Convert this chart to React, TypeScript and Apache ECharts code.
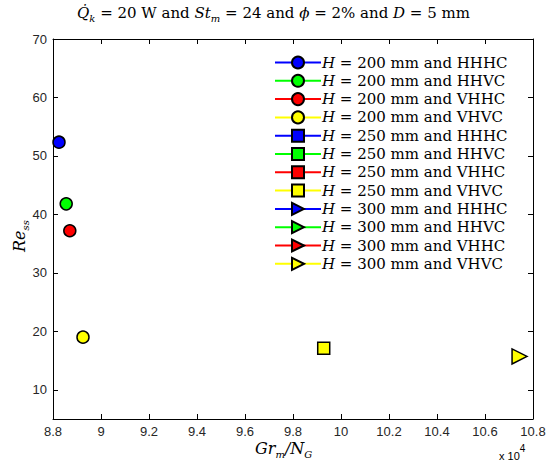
import React, { useEffect, useRef } from "react";
import * as echarts from "echarts";

const seriesNames = [
  "H200 HHHC", "H200 HHVC", "H200 VHHC", "H200 VHVC",
  "H250 HHHC", "H250 HHVC", "H250 VHHC", "H250 VHVC",
  "H300 HHHC", "H300 HHVC", "H300 VHHC", "H300 VHVC",
];
const legendH = ["200", "200", "200", "200", "250", "250", "250", "250", "300", "300", "300", "300"];
const legendCfg = ["HHHC", "HHVC", "VHHC", "VHVC", "HHHC", "HHVC", "VHHC", "VHVC", "HHHC", "HHVC", "VHHC", "VHVC"];
const seriesColors = ["#0000ff", "#00ff00", "#ff0000", "#ffff00", "#0000ff", "#00ff00", "#ff0000", "#ffff00", "#0000ff", "#00ff00", "#ff0000", "#ffff00"];
const seriesSymbols = ["circle", "circle", "circle", "circle", "rect", "rect", "rect", "rect", "triangle", "triangle", "triangle", "triangle"];

// [Gr_m/N_G, Re_ss]
const seriesData: number[][][] = [
  [[88250, 52.35]],
  [[88550, 41.8]],
  [[88700, 37.2]],
  [[89250, 19.0]],
  [],
  [],
  [],
  [[99280, 17.1]],
  [],
  [],
  [],
  [[107440, 15.7]],
];

const yTicks = [10, 20, 30, 40, 50, 60, 70];

export default function App() {
  const ref = useRef<HTMLDivElement>(null);
  useEffect(() => {
    const chart = echarts.init(ref.current!, null, { renderer: "svg" });
    const serif = "DejaVu Serif";
    const labelStyle = { fontFamily: "Liberation Sans", fontSize: 13, color: "#262626" };
    const series = seriesNames.map((name, i) => ({
      name,
      type: "line",
      data: seriesData[i],
      symbol: seriesSymbols[i],
      symbolSize: seriesSymbols[i] === "triangle" ? 15 : 12,
      symbolRotate: seriesSymbols[i] === "triangle" ? -90 : 0,
      showAllSymbol: true,
      lineStyle: { color: seriesColors[i], width: 2 },
      itemStyle: { color: seriesColors[i], borderColor: "#000", borderWidth: 1.5 },
      xAxisIndex: 0,
      yAxisIndex: 0,
      z: 3,
    }));
    const option: any = {
      animation: false,
      backgroundColor: "#fff",
      grid: { left: 53, right: 14, top: 39, bottom: 43, containLabel: false, outerBoundsMode: "none" },
      xAxis: [
        {
          type: "value",
          min: 88000,
          max: 108000,
          interval: 2000,
          axisLine: { show: true, onZero: false, lineStyle: { color: "#000", width: 1 } },
          axisTick: { show: true, inside: true, length: 5, lineStyle: { color: "#000" } },
          splitLine: { show: false },
          axisLabel: {
            ...labelStyle,
            margin: 6,
            formatter: (v: number) => String(parseFloat((v / 1e4).toFixed(1))),
          },
        },
        {
          type: "value",
          position: "top",
          min: 88000,
          max: 108000,
          interval: 2000,
          axisLine: { show: true, onZero: false, lineStyle: { color: "#000", width: 1 } },
          axisTick: { show: true, inside: true, length: 5, lineStyle: { color: "#000" } },
          splitLine: { show: false },
          axisLabel: { show: false },
        },
      ],
      yAxis: [
        {
          type: "value",
          min: 5,
          max: 70,
          axisLine: { show: true, onZero: false, lineStyle: { color: "#000", width: 1 } },
          axisTick: { show: true, inside: true, length: 5, lineStyle: { color: "#000" }, customValues: yTicks },
          splitLine: { show: false },
          axisLabel: { ...labelStyle, margin: 6, customValues: yTicks },
        },
        {
          type: "value",
          position: "right",
          min: 5,
          max: 70,
          axisLine: { show: true, onZero: false, lineStyle: { color: "#000", width: 1 } },
          axisTick: { show: true, inside: true, length: 5, lineStyle: { color: "#000" }, customValues: yTicks },
          splitLine: { show: false },
          axisLabel: { show: false, customValues: yTicks },
        },
      ],
      legend: {
        orient: "vertical",
        left: 269,
        top: 50,
        itemWidth: 46,
        itemHeight: 15,
        itemGap: 3.3,
        data: seriesNames,
        formatter: (name: string) => {
          const i = seriesNames.indexOf(name);
          return `{i|H}{n| = ${legendH[i]} mm and ${legendCfg[i]}}`;
        },
        textStyle: {
          padding: [0, 0, 0, -4],
          rich: {
            i: { fontFamily: serif, fontStyle: "italic", fontSize: 15, color: "#000" },
            n: { fontFamily: serif, fontSize: 15, color: "#000" },
          },
        },
      },
      graphic: [
        {
          type: "text",
          left: "center",
          top: 5,
          style: {
            text: "{m|Q̇}{s|k}{n| = 20 W and }{m|St}{s|m}{n| = 24 and }{m|ϕ}{n| = 2% and }{m|D}{n| = 5 mm}",
            rich: {
              m: { fontFamily: serif, fontStyle: "italic", fontSize: 15, color: "#000", lineHeight: 22, verticalAlign: "middle" },
              n: { fontFamily: serif, fontSize: 15, color: "#000", lineHeight: 22, verticalAlign: "middle" },
              s: { fontFamily: serif, fontStyle: "italic", fontSize: 10, color: "#000", lineHeight: 22, verticalAlign: "bottom" },
            },
          },
        },
        {
          type: "text",
          left: 255,
          top: 440,
          style: {
            text: "{m|Gr}{s|m}{m|/N}{s|G}",
            rich: {
              m: { fontFamily: serif, fontStyle: "italic", fontSize: 16, color: "#000", lineHeight: 22, verticalAlign: "middle" },
              s: { fontFamily: serif, fontStyle: "italic", fontSize: 10, color: "#000", lineHeight: 22, verticalAlign: "bottom" },
            },
          },
        },
        {
          type: "text",
          x: 8,
          y: 252,
          rotation: Math.PI / 2,
          style: {
            text: "{m|Re}{s|ss}",
            rich: {
              m: { fontFamily: serif, fontStyle: "italic", fontSize: 16, color: "#000", lineHeight: 22, verticalAlign: "middle" },
              s: { fontFamily: serif, fontStyle: "italic", fontSize: 10, color: "#000", lineHeight: 22, verticalAlign: "bottom" },
            },
          },
        },
        {
          type: "text",
          left: 499,
          top: 443,
          style: {
            text: "{n|x 10}{s|4}",
            rich: {
              n: { fontFamily: "Liberation Sans", fontSize: 11, color: "#262626", lineHeight: 18, verticalAlign: "bottom" },
              s: { fontFamily: "Liberation Sans", fontSize: 10, color: "#262626", lineHeight: 18, verticalAlign: "top" },
            },
          },
        },
      ],
      series,
    };
    chart.setOption(option);
    return () => chart.dispose();
  }, []);
  return <div ref={ref} style={{ width: 547, height: 462, position: "absolute", left: 0, top: 0 }} />;
}
